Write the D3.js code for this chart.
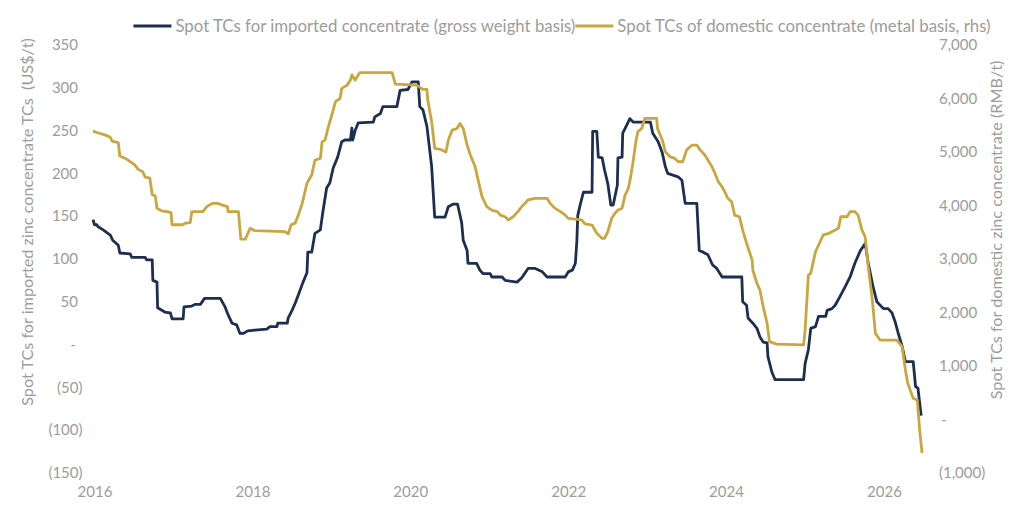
<!DOCTYPE html>
<html lang="en">
<head>
<meta charset="UTF-8">
<title>Zinc concentrate spot TCs</title>
<script src="https://d3js.org/d3.v7.min.js"></script>
<style>
    body { margin: 0; padding: 0; background: #fff; }
    svg { display: block; font-family: Lato, "Noto Sans", sans-serif; }
    .tick-label { fill: #9c9c9c; font-size: 15px; }
    .axis-title { fill: #9c9c9c; font-size: 16.2px; white-space: pre; }
    .legend-text { fill: #9c9c9c; font-size: 16.8px; }
</style>
</head>
<body>
<div id="chart"></div>
<script>
    // series labels
    const seriesNames = [
        "Spot TCs for imported concentrate (gross weight basis)",
        "Spot TCs of domestic concentrate (metal basis, rhs)"
    ];
    const seriesColors = ["#1d2f50", "#c9a73e"];

    // imported concentrate, US$/t (decimal year)
    const importDates = [
        2016.00, 2016.02, 2016.05, 2016.06, 2016.13, 2016.22, 2016.25, 2016.32, 2016.34, 2016.47,
        2016.49, 2016.66, 2016.68, 2016.75, 2016.76, 2016.81, 2016.82, 2016.91, 2016.98, 2017.00,
        2017.14, 2017.15, 2017.25, 2017.29, 2017.36, 2017.41, 2017.61, 2017.67, 2017.71, 2017.76,
        2017.82, 2017.86, 2017.90, 2017.96, 2018.05, 2018.20, 2018.24, 2018.33, 2018.34, 2018.46,
        2018.47, 2018.52, 2018.56, 2018.60, 2018.66, 2018.71, 2018.72, 2018.77, 2018.81, 2018.88,
        2018.91, 2018.96, 2019.00, 2019.04, 2019.10, 2019.15, 2019.19, 2019.26, 2019.28, 2019.29,
        2019.32, 2019.36, 2019.55, 2019.57, 2019.64, 2019.67, 2019.85, 2019.89, 2019.99, 2020.04,
        2020.12, 2020.14, 2020.18, 2020.23, 2020.29, 2020.33, 2020.46, 2020.50, 2020.56, 2020.62,
        2020.67, 2020.69, 2020.74, 2020.75, 2020.86, 2020.90, 2020.94, 2021.03, 2021.05, 2021.18,
        2021.22, 2021.37, 2021.43, 2021.51, 2021.60, 2021.69, 2021.75, 2021.98, 2022.02, 2022.07,
        2022.11, 2022.13, 2022.14, 2022.17, 2022.21, 2022.32, 2022.33, 2022.38, 2022.40, 2022.45,
        2022.48, 2022.52, 2022.56, 2022.59, 2022.61, 2022.64, 2022.65, 2022.70, 2022.71, 2022.76,
        2022.80, 2022.84, 2023.06, 2023.09, 2023.16, 2023.21, 2023.25, 2023.28, 2023.41, 2023.46,
        2023.50, 2023.65, 2023.68, 2023.73, 2023.79, 2023.85, 2023.90, 2023.97, 2024.22, 2024.23,
        2024.28, 2024.30, 2024.36, 2024.41, 2024.45, 2024.49, 2024.54, 2024.55, 2024.60, 2024.64,
        2025.00, 2025.02, 2025.06, 2025.09, 2025.15, 2025.19, 2025.28, 2025.30, 2025.36, 2025.40,
        2025.46, 2025.53, 2025.59, 2025.65, 2025.72, 2025.78, 2025.82, 2025.88, 2025.93, 2026.01,
        2026.07, 2026.12, 2026.16, 2026.20, 2026.25, 2026.29, 2026.39, 2026.42, 2026.45, 2026.49
    ];
    const importTCs = [
        146, 140, 140, 138, 134, 128, 122, 116, 107, 106,
        102, 102, 99, 99, 75, 73, 43, 38, 37, 30,
        30, 44, 45, 47, 47, 54, 54, 44, 35, 25,
        23, 13, 13, 16, 17, 18, 21, 21, 25, 25,
        31, 40, 48, 58, 73, 84, 108, 108, 130, 134,
        154, 183, 189, 206, 219, 237, 239, 239, 253, 239,
        250, 259, 260, 266, 270, 278, 278, 297, 298, 307,
        307, 278, 274, 255, 208, 149, 149, 161, 164, 164,
        142, 122, 110, 95, 95, 87, 83, 83, 79, 79,
        75, 73, 78, 89, 89, 85, 79, 79, 85, 87,
        95, 122, 151, 163, 178, 178, 249, 249, 219, 218,
        204, 188, 163, 163, 173, 186, 218, 219, 247, 256,
        264, 260, 260, 247, 237, 224, 208, 200, 196, 192,
        165, 165, 110, 108, 105, 93, 89, 79, 79, 50,
        46, 31, 25, 19, 9, 3, 2, -14, -32, -41,
        -41, -22, -6, 19, 21, 33, 33, 40, 42, 46,
        56, 68, 79, 95, 110, 118, 95, 68, 50, 42,
        42, 37, 27, 13, -2, -20, -20, -49, -51, -83
    ];

    // domestic concentrate, RMB/t (decimal year)
    const domesticDates = [
        2016.00, 2016.06, 2016.15, 2016.22, 2016.24, 2016.32, 2016.34, 2016.41, 2016.47, 2016.53,
        2016.57, 2016.63, 2016.66, 2016.72, 2016.75, 2016.79, 2016.81, 2016.87, 2016.94, 2016.99,
        2017.00, 2017.13, 2017.17, 2017.23, 2017.25, 2017.39, 2017.44, 2017.51, 2017.58, 2017.63,
        2017.70, 2017.71, 2017.84, 2017.87, 2017.93, 2017.99, 2018.05, 2018.43, 2018.47, 2018.51,
        2018.56, 2018.60, 2018.65, 2018.71, 2018.77, 2018.81, 2018.88, 2018.90, 2018.94, 2018.98,
        2019.03, 2019.07, 2019.13, 2019.15, 2019.22, 2019.26, 2019.28, 2019.32, 2019.36, 2019.38,
        2019.79, 2019.83, 2020.10, 2020.18, 2020.23, 2020.24, 2020.29, 2020.33, 2020.40, 2020.47,
        2020.50, 2020.55, 2020.61, 2020.65, 2020.69, 2020.74, 2020.78, 2020.84, 2020.88, 2020.93,
        2020.99, 2021.05, 2021.12, 2021.16, 2021.22, 2021.26, 2021.32, 2021.38, 2021.43, 2021.47,
        2021.51, 2021.60, 2021.75, 2021.79, 2021.85, 2021.92, 2021.98, 2022.02, 2022.19, 2022.23,
        2022.32, 2022.38, 2022.45, 2022.48, 2022.52, 2022.57, 2022.61, 2022.65, 2022.70, 2022.74,
        2022.78, 2022.81, 2022.84, 2022.88, 2022.90, 2022.95, 2022.99, 2023.14, 2023.15, 2023.21,
        2023.25, 2023.31, 2023.37, 2023.41, 2023.47, 2023.52, 2023.59, 2023.65, 2023.69, 2023.75,
        2023.79, 2023.84, 2023.88, 2023.92, 2023.97, 2024.01, 2024.04, 2024.09, 2024.13, 2024.19,
        2024.23, 2024.28, 2024.35, 2024.36, 2024.41, 2024.45, 2024.49, 2024.54, 2024.57, 2024.66,
        2025.00, 2025.02, 2025.06, 2025.09, 2025.15, 2025.22, 2025.25, 2025.32, 2025.40, 2025.44,
        2025.47, 2025.55, 2025.59, 2025.65, 2025.69, 2025.74, 2025.78, 2025.82, 2025.87, 2025.91,
        2025.97, 2026.18, 2026.25, 2026.29, 2026.32, 2026.39, 2026.44, 2026.47, 2026.50
    ];
    const domesticTCs = [
        5390, 5360, 5320, 5275, 5205, 5175, 4925, 4880, 4820, 4760,
        4680, 4630, 4530, 4510, 4200, 4180, 3950, 3900, 3885, 3865,
        3640, 3640, 3670, 3680, 3885, 3885, 3980, 4040, 4040, 4010,
        3980, 3885, 3885, 3370, 3370, 3575, 3530, 3510, 3470, 3640,
        3670, 3820, 4040, 4415, 4570, 4850, 4880, 5190, 5225, 5475,
        5720, 5940, 6000, 6190, 6250, 6345, 6440, 6345, 6440, 6485,
        6485, 6270, 6250, 6170, 6170, 5970, 5565, 5070, 5050, 5000,
        5225, 5410, 5440, 5535, 5440, 5130, 4945, 4725, 4475, 4165,
        3980, 3915, 3885, 3820, 3790, 3730, 3790, 3885, 3980, 4040,
        4105, 4135, 4135, 4040, 3950, 3885, 3820, 3760, 3730, 3655,
        3635, 3480, 3385, 3385, 3510, 3760, 3855, 3915, 3950, 4195,
        4320, 4540, 4820, 5225, 5380, 5440, 5630, 5630, 5440, 5225,
        5005, 4910, 4880, 4820, 4820, 5040, 5130, 5130, 5040, 4945,
        4850, 4725, 4600, 4445, 4350, 4230, 4135, 4070, 3820, 3790,
        3540, 3295, 2980, 2795, 2545, 2420, 2110, 1800, 1455, 1410,
        1395, 1675, 2700, 2735, 3135, 3355, 3450, 3480, 3540, 3575,
        3790, 3790, 3885, 3885, 3820, 3540, 3415, 2855, 2235, 1610,
        1485, 1485, 1360, 925, 675, 395, 365, -195, -630
    ];

    // axis ticks
    const leftTicks = [350, 300, 250, 200, 150, 100, 50, 0, -50, -100, -150];
    const rightTicks = [7000, 6000, 5000, 4000, 3000, 2000, 1000, 0, -1000];
    const yearTicks = [2016, 2018, 2020, 2022, 2024, 2026];
    const leftTitle = "Spot TCs for imported zinc concentrate TCs  (US$/t)";
    const rightTitle = "Spot TCs for domestic zinc concentrate (RMB/t)";

    const width = 1024;
    const height = 521;
    const plot = { left: 93, right: 882.5, top: 45, bottom: 473 };

    const toDate = y => {
        const yr = Math.floor(y);
        return new Date(yr, 0, 1 + Math.round((y - yr) * 365));
    };

    const svg = d3.select("#chart")
        .append("svg")
        .attr("width", width)
        .attr("height", height);

    const x = d3.scaleTime()
        .domain([new Date(2016, 0, 1), new Date(2026, 0, 1)])
        .range([plot.left, plot.right]);

    const yLeft = d3.scaleLinear()
        .domain([-150, 350])
        .range([plot.bottom, plot.top]);

    const yRight = d3.scaleLinear()
        .domain([-1000, 7000])
        .range([plot.bottom, plot.top]);

    // accounting style number labels
    const fmt = d3.format(",");
    const acct = v => v === 0 ? "-" : v < 0 ? "(" + fmt(-v) + ")" : fmt(v);

    // left axis labels
    svg.append("g")
        .selectAll("text")
        .data(leftTicks)
        .enter().append("text")
        .attr("class", "tick-label")
        .attr("x", d => d < 0 ? 82.5 : d === 0 ? 76 : 78)
        .attr("y", d => yLeft(d))
        .attr("dy", "0.35em")
        .attr("text-anchor", "end")
        .text(acct);

    // right axis labels
    svg.append("g")
        .selectAll("text")
        .data(rightTicks)
        .enter().append("text")
        .attr("class", "tick-label")
        .attr("x", d => d === 0 ? 941 : 939)
        .attr("y", d => yRight(d))
        .attr("dy", "0.35em")
        .attr("text-anchor", "start")
        .text(acct);

    // x axis labels
    svg.append("g")
        .selectAll("text")
        .data(yearTicks)
        .enter().append("text")
        .attr("class", "tick-label")
        .attr("x", d => x(new Date(d, 0, 1)) + 2)
        .attr("y", 492)
        .attr("dy", "0.35em")
        .attr("text-anchor", "middle")
        .text(d => d);

    // axis titles
    svg.append("text")
        .attr("class", "axis-title")
        .attr("transform", "translate(33,222) rotate(-90)")
        .attr("text-anchor", "middle")
        .text(leftTitle);

    svg.append("text")
        .attr("class", "axis-title")
        .attr("transform", "translate(1002,230) rotate(-90)")
        .attr("text-anchor", "middle")
        .text(rightTitle);

    // lines
    const importLine = d3.line()
        .x((d, i) => x(toDate(importDates[i])))
        .y(d => yLeft(d));

    const domesticLine = d3.line()
        .x((d, i) => x(toDate(domesticDates[i])))
        .y(d => yRight(d));

    svg.append("path")
        .datum(importTCs)
        .attr("fill", "none")
        .attr("stroke", seriesColors[0])
        .attr("stroke-width", 2.8)
        .attr("stroke-linejoin", "round")
        .attr("d", importLine);

    svg.append("path")
        .datum(domesticTCs)
        .attr("fill", "none")
        .attr("stroke", seriesColors[1])
        .attr("stroke-width", 2.8)
        .attr("stroke-linejoin", "round")
        .attr("d", domesticLine);

    // legend
    const legend = svg.append("g");
    let lx = 0;
    seriesNames.forEach((name, i) => {
        legend.append("line")
            .attr("x1", lx).attr("x2", lx + 38)
            .attr("y1", 26).attr("y2", 26)
            .attr("stroke", seriesColors[i])
            .attr("stroke-width", 2.8);
        const t = legend.append("text")
            .attr("class", "legend-text")
            .attr("x", lx + 42)
            .attr("y", 26)
            .attr("dy", "0.35em")
            .text(name);
        lx += 42 + t.node().getComputedTextLength();
    });
    legend.attr("transform", `translate(${562 - lx / 2},0)`);
</script>
</body>
</html>
